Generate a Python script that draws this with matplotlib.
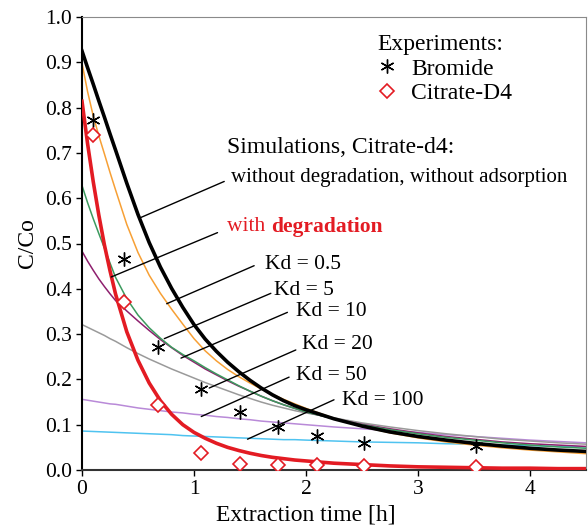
import matplotlib
matplotlib.use("Agg")
import matplotlib.pyplot as plt
import numpy as np

plt.rcParams["font.family"] = ["Liberation Serif", "DejaVu Serif"]

# experiments
t_exp = [0.10, 0.375, 0.68, 1.06, 1.41, 1.75, 2.10, 2.52, 3.52]
bromide = [0.772, 0.466, 0.271, 0.178, 0.129, 0.096, 0.075, 0.060, 0.052]
citrate = [0.740, 0.370, 0.143, 0.037, 0.014, 0.011, 0.011, 0.008, 0.006]

# simulations
t_sim = [0.0, 0.05, 0.1, 0.15, 0.2, 0.25, 0.3, 0.4, 0.5, 0.6, 0.7, 0.8, 0.9,
         1.0, 1.1, 1.2, 1.3, 1.4, 1.5, 1.6, 1.7, 1.8, 1.9, 2.0,
         2.25, 2.5, 2.75, 3.0, 3.25, 3.5, 3.75, 4.0, 4.25, 4.5]
no_deg = [0.925, 0.888, 0.852, 0.815, 0.779, 0.742, 0.706, 0.633, 0.564,
          0.502, 0.448, 0.401, 0.359, 0.321, 0.289, 0.262, 0.238, 0.217,
          0.198, 0.181, 0.166, 0.153, 0.142, 0.133,
          0.113, 0.097, 0.084, 0.074, 0.066, 0.059, 0.053, 0.048, 0.044, 0.041]
with_deg = [0.814, 0.720, 0.637, 0.563, 0.497, 0.440, 0.388, 0.305, 0.242,
            0.192, 0.153, 0.123, 0.100, 0.083, 0.070, 0.059, 0.050, 0.043,
            0.037, 0.032, 0.028, 0.025, 0.022, 0.020,
            0.015, 0.012, 0.009, 0.007, 0.006, 0.005, 0.004, 0.004, 0.003, 0.003]
kd_05 = [0.898, 0.835, 0.782, 0.738, 0.698, 0.657, 0.618, 0.542, 0.480,
         0.430, 0.390, 0.355, 0.322, 0.290, 0.263, 0.241, 0.222, 0.206,
         0.192, 0.179, 0.167, 0.156, 0.146, 0.136,
         0.114, 0.096, 0.082, 0.071, 0.062, 0.055, 0.049, 0.044, 0.040, 0.036]
kd_5 = [0.628, 0.590, 0.555, 0.522, 0.490, 0.457, 0.425, 0.378, 0.342,
        0.314, 0.291, 0.271, 0.255, 0.241, 0.226, 0.212, 0.199, 0.186,
        0.174, 0.163, 0.153, 0.144, 0.136, 0.128,
        0.113, 0.100, 0.089, 0.080, 0.072, 0.066, 0.060, 0.055, 0.051, 0.048]
kd_10 = [0.483, 0.461, 0.441, 0.422, 0.405, 0.389, 0.374, 0.351, 0.329,
         0.308, 0.288, 0.270, 0.253, 0.238, 0.223, 0.210, 0.197, 0.185,
         0.174, 0.163, 0.153, 0.144, 0.136, 0.128,
         0.113, 0.101, 0.091, 0.082, 0.074, 0.068, 0.062, 0.058, 0.055, 0.052]
kd_20 = [0.321, 0.315, 0.309, 0.303, 0.297, 0.290, 0.284, 0.270, 0.257,
         0.245, 0.234, 0.223, 0.213, 0.203, 0.193, 0.184, 0.175, 0.166,
         0.158, 0.150, 0.143, 0.137, 0.131, 0.126,
         0.115, 0.104, 0.095, 0.087, 0.080, 0.074, 0.068, 0.064, 0.060, 0.057]
kd_50 = [0.156, 0.154, 0.152, 0.150, 0.148, 0.146, 0.145, 0.141, 0.137,
         0.134, 0.131, 0.128, 0.126, 0.123, 0.121, 0.118, 0.116, 0.113,
         0.111, 0.108, 0.106, 0.104, 0.102, 0.100,
         0.095, 0.091, 0.087, 0.083, 0.078, 0.074, 0.070, 0.066, 0.063, 0.060]
kd_100 = [0.086, 0.0855, 0.085, 0.0845, 0.084, 0.0835, 0.083, 0.082, 0.081,
          0.080, 0.079, 0.078, 0.076, 0.075, 0.074, 0.073, 0.072, 0.071,
          0.070, 0.069, 0.068, 0.067, 0.067, 0.066,
          0.064, 0.062, 0.061, 0.060, 0.058, 0.057, 0.055, 0.054, 0.052, 0.051]

fig = plt.figure(figsize=(5.88, 5.27), dpi=100)
ax = fig.add_axes([82 / 588, 57 / 527, 504 / 588, 453 / 527])

thin = 1.1
ax.plot(t_sim, kd_100, color="#4fc3f0", lw=thin, zorder=2)
ax.plot(t_sim, kd_50, color="#b98ad8", lw=thin, zorder=2)
ax.plot(t_sim, kd_20, color="#9a9a9a", lw=thin, zorder=2)
ax.plot(t_sim, kd_10, color="#8e1f6e", lw=thin, zorder=2)
ax.plot(t_sim, kd_5, color="#3c9a5e", lw=thin, zorder=2)
ax.plot(t_sim, kd_05, color="#f7a035", lw=thin, zorder=2)
ax.plot(t_sim, no_deg, color="black", lw=2.6, zorder=3)
ax.plot(t_sim, with_deg, color="#e31b23", lw=2.6, zorder=3)

br, = ax.plot(t_exp, bromide, ls="none", marker=(6, 2, 0), ms=10, mew=1.0,
              color="black", zorder=5, label="Bromide")
ci, = ax.plot(t_exp, citrate, ls="none", marker="D", ms=7, mew=1.2,
              mfc="white", mec="#e31b23", zorder=5, label="Citrate-D4")

leg = ax.legend(handles=[br, ci], title="Experiments:", loc="upper left",
                bbox_to_anchor=(0.587, 0.962), frameon=False, fontsize=17,
                title_fontsize=17, alignment="left", borderpad=0,
                labelspacing=0.12, handlelength=0.8, handletextpad=0.6,
                borderaxespad=0)

ax.text(1.297, 0.711, "Simulations, Citrate-d4:", fontsize=17, va="center")

# label, label position, line start, point on curve
notes = [
    ("without degradation, without adsorption", (1.332, 0.645), (1.270, 0.637), (0.512, 0.556)),
    ("Kd = 0.5", (1.635, 0.453), (1.537, 0.451), (0.756, 0.367)),
    ("Kd = 5", (1.716, 0.396), (1.686, 0.390), (0.735, 0.290)),
    ("Kd = 10", (1.912, 0.349), (1.834, 0.348), (0.884, 0.247)),
    ("Kd = 20", (1.965, 0.276), (1.909, 0.265), (1.136, 0.181)),
    ("Kd = 50", (1.912, 0.208), (1.849, 0.205), (1.065, 0.118)),
    ("Kd = 100", (2.322, 0.153), (2.250, 0.155), (1.478, 0.068)),
]
for label, pos, start, end in notes:
    fs = 15 if label.startswith("without") else 15.5
    ax.text(pos[0], pos[1], label, fontsize=fs, va="center")
    ax.annotate("", xy=end, xytext=start,
                arrowprops=dict(arrowstyle="-", lw=1, color="black",
                                shrinkA=0, shrinkB=0))

# with degradation (red, part bold)
tw = ax.text(1.297, 0.537, "with ", fontsize=15.5, color="#e31b23", va="center")
ax.annotate("degradation", xycoords=tw, xy=(1, 0.5), va="center",
            fontsize=15.5, color="#e31b23", fontweight="bold")
ax.annotate("", xy=(0.260, 0.426), xytext=(1.210, 0.524),
            arrowprops=dict(arrowstyle="-", lw=1, color="black",
                            shrinkA=0, shrinkB=0))

ax.set_xlim(0, 4.5)
ax.set_ylim(0, 1.0)
ax.set_xticks([0, 1, 2, 3, 4])
ax.set_yticks(np.arange(0, 1.01, 0.1))
ax.set_yticklabels([f"{v:.1f}" for v in np.arange(0, 1.01, 0.1)])
ax.tick_params(direction="out", length=4, width=1, labelsize=15.5, pad=3)

ax.spines["left"].set_linewidth(1.5)
ax.spines["bottom"].set_linewidth(1.5)
ax.spines["bottom"].set_color("#333333")
ax.spines["top"].set_color("#8a8a8a")
ax.spines["right"].set_color("#8a8a8a")

ax.set_xlabel("Extraction time [h]", fontsize=17)
ax.xaxis.set_label_coords(0.444, -0.077)
ax.set_ylabel("C/Co", fontsize=17)
ax.yaxis.set_label_coords(-0.087, 0.5)

fig.savefig("out.png", dpi=100)
